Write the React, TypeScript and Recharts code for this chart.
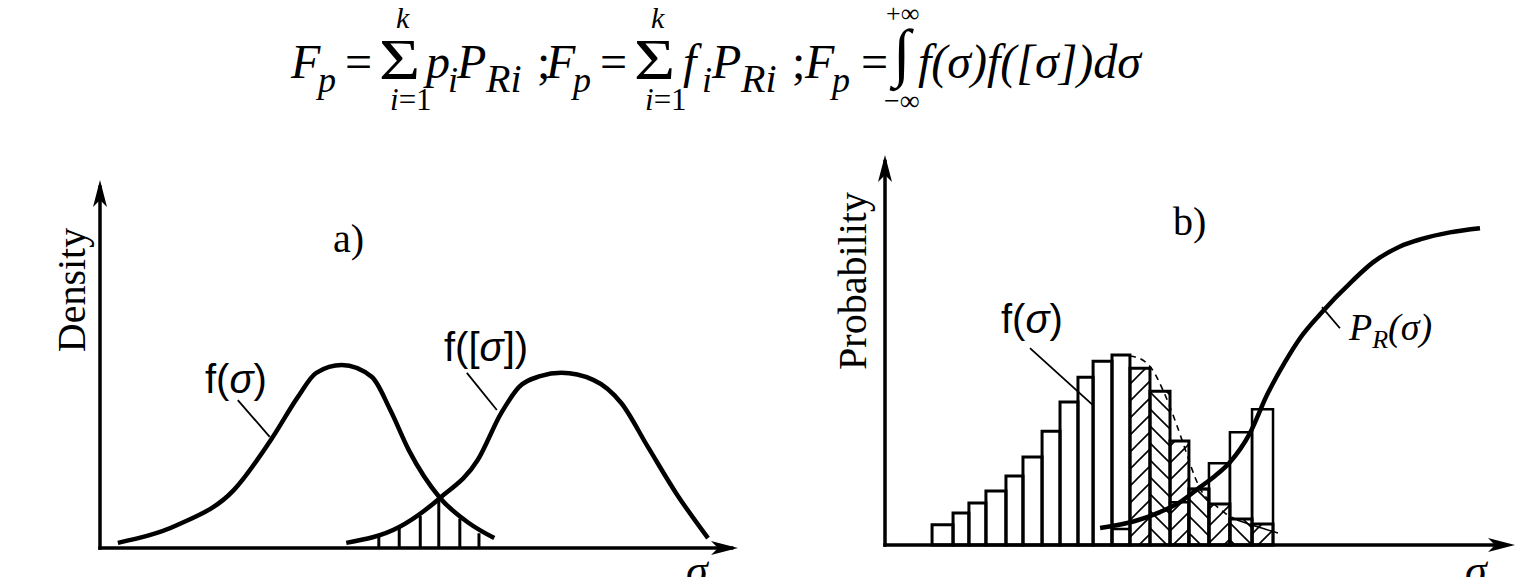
import React from 'react';
import { ComposedChart, Line, XAxis, YAxis, ReferenceLine, ReferenceDot, ReferenceArea } from 'recharts';

// ---------- Panel a) : two densities ----------
const fSigmaA = [2.8, 12.2, 21.0, 27.1, 31.0, 33.9, 37.9, 42.6, 45.5, 48.4, 53.3, 57.8, 61.8];
const fValuesA = [1.4, 6.3, 15.8, 30.2, 41.0, 47.6, 49.7, 46.5, 37.5, 26.6, 13.6, 6.8, 2.7];
const gSigmaA = [38.6, 46.9, 53.3, 59.2, 62.9, 65.7, 69.0, 72.3, 77.3, 81.7, 85.9, 90.3, 95.3];
const gValuesA = [1.4, 5.7, 13.6, 23.9, 36.7, 43.8, 46.7, 47.6, 45.7, 39.4, 27.4, 14.9, 2.7];
const hatchSigmaA = [43.7, 46.9, 50.2, 53.1, 56.4, 59.4];
const hatchHeightA = [3.5, 5.7, 8.7, 13.6, 8.0, 4.0];

// ---------- Panel b) : histogram f_i, P_R(sigma) ----------
const binEdgesB = [2.49, 3.60, 4.44, 5.34, 6.40, 7.30, 8.31, 9.26, 10.21, 11.01, 12.01, 12.96, 14.02, 15.08, 16.08, 17.14, 18.25, 19.42, 20.53];
const fHistB = [0.063, 0.100, 0.131, 0.169, 0.216, 0.275, 0.356, 0.447, 0.525, 0.575, 0.594, 0.553, 0.481, 0.325, 0.175, 0.128, 0.081, 0.066];
const pHistB: (number | null)[] = [null, null, null, null, null, null, null, null, null, null, 0.05, null, null, 0.134, 0.175, 0.256, 0.353, 0.425];
const hatchedB = [false, false, false, false, false, false, false, false, false, false, false, true, true, true, true, true, true, true];
const prSigmaB = [11.38, 13.23, 14.55, 15.61, 16.67, 17.46, 18.25, 19.31, 20.21, 21.16, 21.96, 23.02, 24.76, 25.82, 27.25, 28.31, 29.89, 31.48];
const prValuesB = [0.053, 0.075, 0.103, 0.134, 0.181, 0.216, 0.259, 0.35, 0.469, 0.572, 0.647, 0.722, 0.828, 0.884, 0.934, 0.956, 0.978, 0.991];
const fSmoothSigmaB = [12.96, 13.65, 14.13, 14.71, 15.40, 15.93, 16.40, 16.77, 17.30, 17.99, 18.62];
const fSmoothValuesB = [0.591, 0.578, 0.55, 0.484, 0.381, 0.291, 0.2125, 0.166, 0.134, 0.10, 0.078];
const tailSigmaB = [18.62, 19.74, 20.79];
const tailValuesB = [0.078, 0.056, 0.0375];

const zip = (xs: number[], ys: number[]) => xs.map((x, i) => ({ x, y: ys[i] }));
const fDataA = zip(fSigmaA, fValuesA);
const gDataA = zip(gSigmaA, gValuesA);
const prDataB = zip(prSigmaB, prValuesB);
const fSmoothDataB = zip(fSmoothSigmaB, fSmoothValuesB);
const tailDataB = zip(tailSigmaB, tailValuesB);

const SERIF = "'Liberation Serif', 'Times New Roman', serif";
const SANS = "'Liberation Sans', Arial, sans-serif";

const rightArrow = (p: any) => (
  <path d={`M${p.cx},${p.cy} L${p.cx - 27},${p.cy - 7} L${p.cx - 20},${p.cy} L${p.cx - 27},${p.cy + 7} Z`} fill="#000" />
);
const upArrow = (p: any) => (
  <path d={`M${p.cx},${p.cy} L${p.cx - 7},${p.cy + 27} L${p.cx},${p.cy + 20} L${p.cx + 7},${p.cy + 27} Z`} fill="#000" />
);

function PanelA() {
  return (
    <ComposedChart width={720} height={412} margin={{ top: 15, right: 22, bottom: 29, left: 60 }}>
      <XAxis xAxisId="a" type="number" dataKey="x" domain={[0, 100]} allowDataOverflow hide />
      <YAxis yAxisId="a" type="number" domain={[0, 100]} allowDataOverflow hide />
      {hatchSigmaA.map((x, i) => (
        <ReferenceLine key={'h' + i} xAxisId="a" yAxisId="a" segment={[{ x, y: 0 }, { x, y: hatchHeightA[i] }]} stroke="#000" strokeWidth={3} ifOverflow="visible" />
      ))}
      <Line xAxisId="a" yAxisId="a" data={fDataA} dataKey="y" type="monotone" stroke="#000" strokeWidth={4.5} dot={false} activeDot={false} isAnimationActive={false} />
      <Line xAxisId="a" yAxisId="a" data={gDataA} dataKey="y" type="monotone" stroke="#000" strokeWidth={4.5} dot={false} activeDot={false} isAnimationActive={false} />
      <ReferenceLine xAxisId="a" yAxisId="a" segment={[{ x: 0, y: 0 }, { x: 99, y: 0 }]} stroke="#000" strokeWidth={3.5} strokeLinecap="square" ifOverflow="visible" />
      <ReferenceLine xAxisId="a" yAxisId="a" segment={[{ x: 0, y: 0 }, { x: 0, y: 98 }]} stroke="#000" strokeWidth={3.5} strokeLinecap="square" ifOverflow="visible" />
      <ReferenceLine xAxisId="a" yAxisId="a" segment={[{ x: 21.6, y: 40.2 }, { x: 26.6, y: 30.2 }]} stroke="#000" strokeWidth={1.8} ifOverflow="visible" />
      <ReferenceLine xAxisId="a" yAxisId="a" segment={[{ x: 57.5, y: 47.6 }, { x: 62.2, y: 37.5 }]} stroke="#000" strokeWidth={1.8} ifOverflow="visible" />
      <ReferenceDot xAxisId="a" yAxisId="a" x={100} y={0} r={1} shape={rightArrow} ifOverflow="visible" />
      <ReferenceDot xAxisId="a" yAxisId="a" x={0} y={100} r={1} shape={upArrow} ifOverflow="visible" />
    </ComposedChart>
  );
}

function PanelB() {
  return (
    <ComposedChart width={700} height={437} margin={{ top: 15, right: 15, bottom: 32, left: 55 }}>
      <XAxis xAxisId="b" type="number" dataKey="x" domain={[0, 33.333]} allowDataOverflow hide />
      <YAxis yAxisId="b" type="number" domain={[0, 1.22]} allowDataOverflow hide />
      {fHistB.map((v, i) => (
        <ReferenceArea key={'f' + i} xAxisId="b" yAxisId="b" x1={binEdgesB[i]} x2={binEdgesB[i + 1]} y1={0} y2={v}
          fill={hatchedB[i] ? (i % 2 === 1 ? 'url(#hatchF)' : 'url(#hatchB)') : 'none'} fillOpacity={1}
          stroke="#000" strokeWidth={3} ifOverflow="visible" />
      ))}
      {pHistB.map((v, i) => v == null ? null : (
        <ReferenceArea key={'p' + i} xAxisId="b" yAxisId="b" x1={binEdgesB[i]} x2={binEdgesB[i + 1]} y1={0} y2={v}
          fill="none" fillOpacity={1} stroke="#000" strokeWidth={2.5} ifOverflow="visible" />
      ))}
      <Line xAxisId="b" yAxisId="b" data={fSmoothDataB} dataKey="y" type="monotone" stroke="#000" strokeWidth={1.6} strokeDasharray="6 5" dot={false} activeDot={false} isAnimationActive={false} />
      <Line xAxisId="b" yAxisId="b" data={tailDataB} dataKey="y" type="monotone" stroke="#000" strokeWidth={1.6} dot={false} activeDot={false} isAnimationActive={false} />
      <Line xAxisId="b" yAxisId="b" data={prDataB} dataKey="y" type="monotone" stroke="#000" strokeWidth={4.5} dot={false} activeDot={false} isAnimationActive={false} />
      <ReferenceLine xAxisId="b" yAxisId="b" segment={[{ x: 0, y: 0 }, { x: 32.8, y: 0 }]} stroke="#000" strokeWidth={3.5} strokeLinecap="square" ifOverflow="visible" />
      <ReferenceLine xAxisId="b" yAxisId="b" segment={[{ x: 0, y: 0 }, { x: 0, y: 1.2 }]} stroke="#000" strokeWidth={3.5} strokeLinecap="square" ifOverflow="visible" />
      <ReferenceLine xAxisId="b" yAxisId="b" segment={[{ x: 7.67, y: 0.616 }, { x: 11.0, y: 0.4375 }]} stroke="#000" strokeWidth={1.8} ifOverflow="visible" />
      <ReferenceLine xAxisId="b" yAxisId="b" segment={[{ x: 23.12, y: 0.744 }, { x: 24.07, y: 0.678 }]} stroke="#000" strokeWidth={1.8} ifOverflow="visible" />
      <ReferenceDot xAxisId="b" yAxisId="b" x={33.333} y={0} r={1} shape={rightArrow} ifOverflow="visible" />
      <ReferenceDot xAxisId="b" yAxisId="b" x={0} y={1.22} r={1} shape={upArrow} ifOverflow="visible" />
    </ComposedChart>
  );
}

function T(props: any) {
  const { x, y, size, italic, family, children, ...rest } = props;
  return (
    <text x={x} y={y} fontSize={size} fontStyle={italic ? 'italic' : 'normal'} fontFamily={family || SERIF} fill="#000" {...rest}>
      {children}
    </text>
  );
}

function Sigma({ x }: { x: number }) {
  return (
    <text transform={`translate(${x},79) scale(1.22,1)`} x={0} y={0} fontSize={58} fontFamily={SERIF} fill="#000">Σ</text>
  );
}

function Formula() {
  const M = 48;
  const S = 36;
  const B = 78;
  const SB = 92;
  return (
    <g>
      <T x={291} y={B} size={M} italic>F</T>
      <T x={318} y={SB} size={S} italic>p</T>
      <T x={345} y={B} size={M}>=</T>
      <Sigma x={379} />
      <T x={396} y={28} size={30} italic>k</T>
      <T x={390} y={110} size={31}><tspan fontStyle="italic">i</tspan>=1</T>
      <T x={426} y={B} size={M} italic>p</T>
      <T x={448} y={SB} size={S} italic>i</T>
      <T x={457} y={B} size={M} italic>P</T>
      <T x={486} y={SB} size={40} italic>Ri</T>
      <T x={537} y={B} size={M}>;</T>

      <T x={546} y={B} size={M} italic>F</T>
      <T x={573} y={SB} size={S} italic>p</T>
      <T x={600} y={B} size={M}>=</T>
      <Sigma x={634} />
      <T x={651} y={28} size={30} italic>k</T>
      <T x={645} y={110} size={31}><tspan fontStyle="italic">i</tspan>=1</T>
      <T x={683} y={B} size={M} italic>f</T>
      <T x={702} y={SB} size={S} italic>i</T>
      <T x={712} y={B} size={M} italic>P</T>
      <T x={741} y={SB} size={40} italic>Ri</T>
      <T x={792} y={B} size={M}>;</T>

      <T x={805} y={B} size={M} italic>F</T>
      <T x={832} y={SB} size={S} italic>p</T>
      <T x={861} y={B} size={M}>=</T>
      <T x={893} y={74} size={64}>∫</T>
      <T x={886} y={22} size={26}>+∞</T>
      <T x={884} y={110} size={28}>−∞</T>
      <T x={918} y={B} size={M} italic>f(σ)f([σ])dσ</T>
    </g>
  );
}

export default function App() {
  return (
    <div style={{ position: 'absolute', left: 0, top: 0, width: 1534, height: 577, background: '#fff', overflow: 'hidden' }}>
      <svg width={0} height={0} style={{ position: 'absolute' }}>
        <defs>
          <pattern id="hatchF" patternUnits="userSpaceOnUse" width={17} height={17}>
            <path d="M0,17 L17,0 M-3,3 L3,-3 M14,20 L20,14" stroke="#000" strokeWidth={1.6} />
          </pattern>
          <pattern id="hatchB" patternUnits="userSpaceOnUse" width={17} height={17}>
            <path d="M0,0 L17,17 M-3,14 L3,20 M14,-3 L20,3" stroke="#000" strokeWidth={1.6} />
          </pattern>
        </defs>
      </svg>
      <div style={{ position: 'absolute', left: 40, top: 165 }}>
        <PanelA />
      </div>
      <div style={{ position: 'absolute', left: 830, top: 140 }}>
        <PanelB />
      </div>
      <svg width={1534} height={577} style={{ position: 'absolute', left: 0, top: 0, pointerEvents: 'none' }}>
        <Formula />
        <T x={85} y={290} size={40} textAnchor="middle" transform="rotate(-90 85 290)">Density</T>
        <T x={333} y={252} size={40}>a)</T>
        <T x={205} y={393} size={40} family={SANS}>f(<tspan fontStyle="italic">σ</tspan>)</T>
        <T x={444} y={361} size={40} family={SANS}>f([<tspan fontStyle="italic">σ</tspan>])</T>
        <T x={686} y={585} size={44} italic>σ</T>
        <T x={866} y={281} size={40} textAnchor="middle" transform="rotate(-90 866 281)">Probability</T>
        <T x={1173} y={235} size={40}>b)</T>
        <T x={1001} y={333} size={40} family={SANS}>f(<tspan fontStyle="italic">σ</tspan>)</T>
        <T x={1349} y={340} size={38} italic>P<tspan fontSize={26} dy={8}>R</tspan><tspan dy={-8}>(σ)</tspan></T>
        <T x={1465} y={585} size={44} italic>σ</T>
      </svg>
    </div>
  );
}
